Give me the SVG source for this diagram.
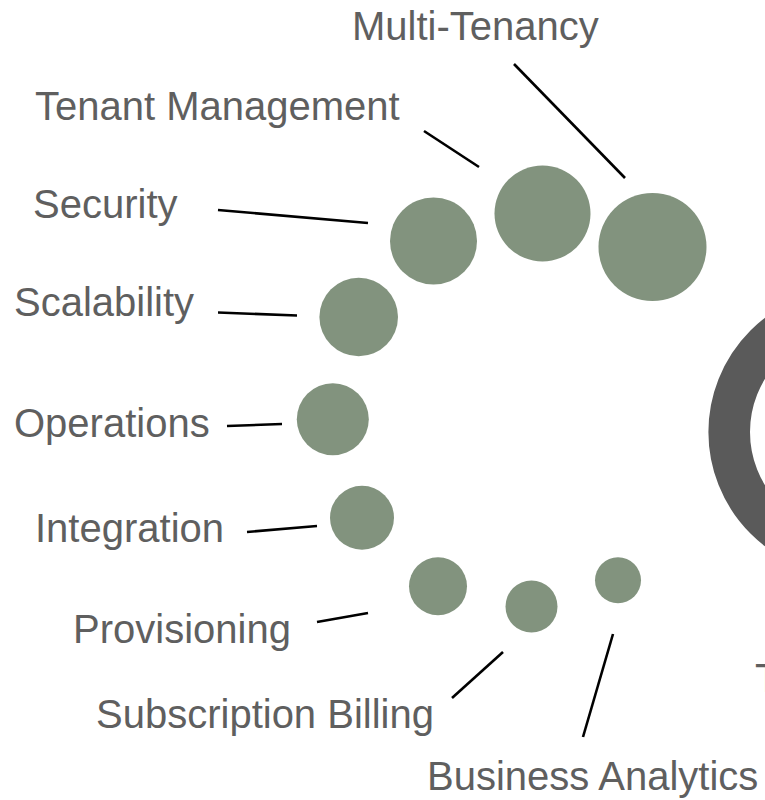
<svg xmlns="http://www.w3.org/2000/svg" width="765" height="800" viewBox="0 0 765 800">
  <style>
    .node circle { fill: #82937e; }
    .lbl { font-family: "Liberation Sans", Arial, Helvetica, sans-serif; font-size: 40px; fill: #5f5f5f; }
    .conn line { stroke: #000; stroke-width: 2.6; stroke-linecap: butt; }
  </style>
  <rect width="765" height="800" fill="#ffffff"/>
  <g id="hub">
    <circle cx="852" cy="432" r="122.8" fill="none" stroke="#5a5a5a" stroke-width="41.6"/>
    <text class="lbl" x="755" y="692">T</text>
  </g>
  <g id="connectors" class="conn">
    <line x1="514" y1="64" x2="625" y2="178"/>
    <line x1="424" y1="131" x2="479" y2="167"/>
    <line x1="218" y1="210" x2="368" y2="223"/>
    <line x1="218" y1="312.5" x2="297" y2="315.5"/>
    <line x1="227" y1="426" x2="282" y2="424"/>
    <line x1="247" y1="532" x2="317" y2="526"/>
    <line x1="317" y1="622" x2="368" y2="613"/>
    <line x1="452" y1="698" x2="503" y2="652"/>
    <line x1="583" y1="737" x2="613" y2="634"/>
  </g>
  <g id="multi-tenancy" class="node">
    <circle cx="652.5" cy="247" r="54"/>
    <text class="lbl" x="352" y="40">Multi-Tenancy</text>
  </g>
  <g id="tenant-management" class="node">
    <circle cx="542.5" cy="213.5" r="48"/>
    <text class="lbl" x="35" y="120">Tenant Management</text>
  </g>
  <g id="security" class="node">
    <circle cx="433.5" cy="241" r="43.5"/>
    <text class="lbl" x="33" y="218">Security</text>
  </g>
  <g id="scalability" class="node">
    <circle cx="358.7" cy="317" r="39.3"/>
    <text class="lbl" x="14" y="316">Scalability</text>
  </g>
  <g id="operations" class="node">
    <circle cx="332.8" cy="419.3" r="36"/>
    <text class="lbl" x="14" y="437">Operations</text>
  </g>
  <g id="integration" class="node">
    <circle cx="362" cy="517.8" r="32"/>
    <text class="lbl" x="35" y="542">Integration</text>
  </g>
  <g id="provisioning" class="node">
    <circle cx="438" cy="586.3" r="29"/>
    <text class="lbl" x="73" y="643">Provisioning</text>
  </g>
  <g id="subscription-billing" class="node">
    <circle cx="531.5" cy="606.5" r="26"/>
    <text class="lbl" x="96" y="728">Subscription Billing</text>
  </g>
  <g id="business-analytics" class="node">
    <circle cx="618" cy="580.3" r="23"/>
    <text class="lbl" x="427" y="790">Business Analytics</text>
  </g>
</svg>
